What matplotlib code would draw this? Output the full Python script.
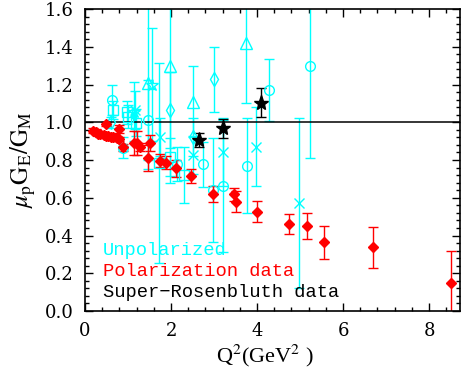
import numpy as np
import matplotlib
matplotlib.use('Agg')
import matplotlib.pyplot as plt
from matplotlib.ticker import MultipleLocator

plt.rcParams['mathtext.fontset'] = 'stix'

# polarization data (red diamonds)
polQ2 = [0.19, 0.26, 0.31, 0.36, 0.43, 0.49, 0.54, 0.60, 0.66, 0.74, 0.80, 0.49, 0.78,
         0.89, 1.14, 1.22, 1.29, 1.50, 1.47, 1.74, 1.88, 2.12, 2.47, 2.97, 3.47, 3.50,
         3.99, 4.75, 5.17, 5.56, 6.70, 8.50]
polG = [0.955, 0.950, 0.940, 0.936, 0.932, 0.929, 0.927, 0.924, 0.920, 0.915, 0.911, 0.990, 0.963,
        0.867, 0.890, 0.890, 0.870, 0.890, 0.810, 0.796, 0.786, 0.756, 0.715, 0.620, 0.618, 0.580,
        0.526, 0.461, 0.452, 0.364, 0.337, 0.147]
polErr = [0.012, 0.012, 0.012, 0.012, 0.012, 0.012, 0.012, 0.012, 0.012, 0.012, 0.012, 0.012, 0.02,
          0.02, 0.065, 0.065, 0.02, 0.04, 0.07, 0.035, 0.035, 0.045, 0.035, 0.04, 0.035, 0.055,
          0.057, 0.054, 0.069, 0.087, 0.107, 0.17]

# super-rosenbluth data (black stars)
srQ2 = [2.64, 3.20, 4.10]
srG = [0.906, 0.968, 1.104]
srErr = [0.035, 0.05, 0.075]

# unpolarized data (cyan, open markers per data set)
cirQ2 = [0.62, 0.88, 1.47, 2.15, 2.74, 2.98, 3.22, 3.76, 4.28, 5.22]
cirG = [1.118, 0.866, 1.012, 0.780, 0.777, 0.640, 0.660, 0.770, 1.170, 1.300]
cirErr = [0.08, 0.055, 0.21, 0.09, 0.12, 0.275, 0.35, 0.25, 0.165, 0.49]

sqQ2 = [0.64, 0.98, 1.00, 1.19, 1.72, 1.98, 2.30]
sqG = [1.065, 1.052, 1.030, 0.998, 0.785, 0.817, 0.720]
sqErr = [0.05, 0.06, 0.06, 0.07, 0.53, 0.10, 0.15]

triQ2 = [1.47, 1.98, 2.50, 3.74]
triG = [1.210, 1.300, 1.110, 1.420]
triErr = [0.46, 0.62, 0.19, 0.32]

diaQ2 = [0.60, 1.98, 2.50, 3.00]
diaG = [1.000, 1.065, 0.920, 1.227]
diaErr = [0.03, 0.20, 0.10, 0.17]

crossQ2 = [1.16, 1.74, 2.50, 3.22, 3.98, 4.98]
crossG = [1.065, 0.920, 0.826, 0.840, 0.870, 0.574]
crossErr = [0.10, 0.10, 0.10, 0.18, 0.21, 0.45]

starQ2 = [1.14, 1.55]
starG = [1.056, 1.200]
starErr = [0.155, 0.30]

fig = plt.figure(figsize=(4.63, 3.71), dpi=100)
ax = fig.add_axes([0.1836, 0.1617, 0.81, 0.814])

cyan = '#00ffff'
for q, g, e, m, ms in [(cirQ2, cirG, cirErr, 'o', 7), (sqQ2, sqG, sqErr, 's', 6.5),
                       (triQ2, triG, triErr, '^', 8), (diaQ2, diaG, diaErr, 'd', 7),
                       (crossQ2, crossG, crossErr, 'x', 7), (starQ2, starG, starErr, '*', 9)]:
    ax.errorbar(q, g, yerr=e, fmt=m, ms=ms, mfc='none', mec=cyan, mew=1.0,
                ecolor=cyan, elinewidth=1.0, capsize=3.5, capthick=1.0)

ax.errorbar(polQ2, polG, yerr=polErr, fmt='D', ms=5.5, color='red', ecolor='red',
            elinewidth=1.0, capsize=3.5, capthick=1.0)
ax.errorbar(srQ2, srG, yerr=srErr, fmt='*', ms=11, color='black', ecolor='black',
            elinewidth=1.0, capsize=3.5, capthick=1.0)

ax.axhline(1.0, color='black', lw=1.1)

ax.set_xlim(0, 8.72)
ax.set_ylim(0, 1.6)
ax.xaxis.set_major_locator(MultipleLocator(2))
ax.xaxis.set_minor_locator(MultipleLocator(0.4))
ax.yaxis.set_minor_locator(MultipleLocator(0.04))
ax.set_yticks(np.arange(0, 1.61, 0.2))
ax.set_yticklabels(['%.1f' % v for v in np.arange(0, 1.61, 0.2)])
ax.tick_params(which='both', direction='in', top=True, right=True, width=1.0)
ax.tick_params(which='major', length=6, pad=8, labelsize=13)
ax.tick_params(which='minor', length=3)
for lab in ax.get_xticklabels() + ax.get_yticklabels():
    lab.set_fontfamily('DejaVu Serif')
for sp in ax.spines.values():
    sp.set_linewidth(1.2)

ax.set_xlabel(r'Q$^2$(GeV$^2$ )', fontsize=16, family='Liberation Serif')
ax.xaxis.set_label_coords(0.48, -0.105)
ax.set_ylabel(r'$\mu_{\rm p}{\rm G}_{\rm E}/{\rm G}_{\rm M}$', fontsize=18)
ax.yaxis.set_label_coords(-0.125, 0.5)

ax.text(0.42, 0.323, 'Unpolarized', color=cyan, family='Liberation Mono', fontsize=13.5, va='center')
ax.text(0.42, 0.208, 'Polarization data', color='red', family='Liberation Mono', fontsize=13.5, va='center')
ax.text(0.42, 0.097, 'Super\u2212Rosenbluth data', color='black', family='Liberation Mono', fontsize=13.5, va='center')

fig.savefig('out.png', dpi=100)
